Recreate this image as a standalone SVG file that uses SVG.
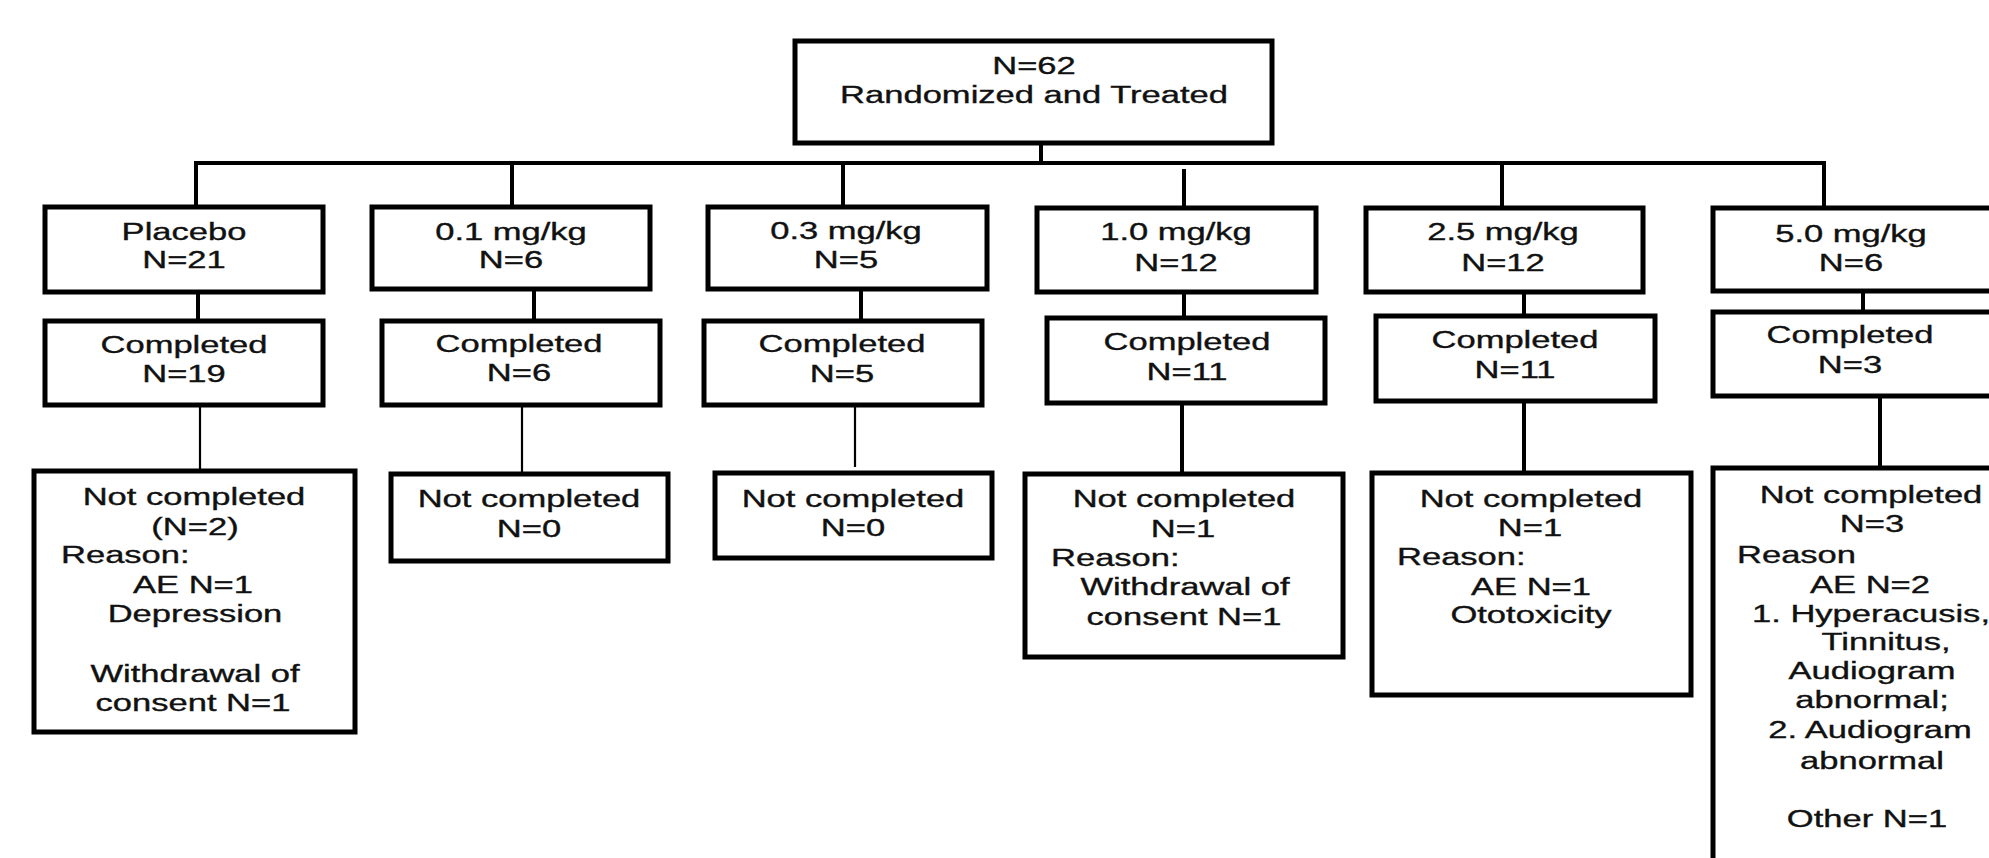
<svg xmlns="http://www.w3.org/2000/svg" width="1989" height="858" viewBox="0 0 1989 858">
<style>
rect.box{fill:#fff;stroke:#000;stroke-width:5}
.conn line{stroke:#000;stroke-width:4;stroke-linecap:butt}
.conn line.thin{stroke-width:2.2}
text{font-family:"Liberation Sans",Arial,sans-serif;font-size:23.5px;fill:#111;stroke:#111;stroke-width:0.35}
text.c{text-anchor:middle}
text.l{text-anchor:start}
</style>
<rect width="1989" height="858" fill="#fff"/>
<g id="connectors" class="conn">
<line x1="1041" y1="143" x2="1041" y2="163"/>
<line x1="194" y1="163" x2="1826" y2="163"/>
<line x1="196" y1="163" x2="196" y2="213"/>
<line x1="512" y1="163" x2="512" y2="213"/>
<line x1="843" y1="163" x2="843" y2="213"/>
<line x1="1184" y1="169" x2="1184" y2="213"/>
<line x1="1502" y1="163" x2="1502" y2="210"/>
<line x1="1824" y1="161" x2="1824" y2="210"/>
<line x1="198" y1="292" x2="198" y2="323"/>
<line x1="534" y1="285" x2="534" y2="323"/>
<line x1="861" y1="286" x2="861" y2="323"/>
<line x1="1184" y1="284" x2="1184" y2="320"/>
<line x1="1524" y1="292" x2="1524" y2="318"/>
<line x1="1863" y1="285" x2="1863" y2="314"/>
<line class="thin" x1="200" y1="405" x2="200" y2="471"/>
<line class="thin" x1="522" y1="405" x2="522" y2="474"/>
<line class="thin" x1="855" y1="405" x2="855" y2="467"/>
<line x1="1182" y1="400" x2="1182" y2="474"/>
<line x1="1524" y1="401" x2="1524" y2="473"/>
<line x1="1880" y1="396" x2="1880" y2="468"/>
</g>
<g id="root">
<rect class="box" x="795" y="41" width="477" height="102"/>
<text class="c" transform="translate(1034,74) scale(1.47,1)">N=62</text>
<text class="c" transform="translate(1034,103) scale(1.47,1)">Randomized and Treated</text>
</g>
<g id="placebo">
<rect class="box" x="45" y="207" width="278" height="85"/>
<text class="c" transform="translate(184,240) scale(1.47,1)">Placebo</text>
<text class="c" transform="translate(184,268) scale(1.47,1)">N=21</text>
</g>
<g id="dose01">
<rect class="box" x="372" y="207" width="278" height="82"/>
<text class="c" transform="translate(511,240) scale(1.47,1)">0.1 mg/kg</text>
<text class="c" transform="translate(511,268) scale(1.47,1)">N=6</text>
</g>
<g id="dose03">
<rect class="box" x="708" y="207" width="279" height="82"/>
<text class="c" transform="translate(846,239) scale(1.47,1)">0.3 mg/kg</text>
<text class="c" transform="translate(846,268) scale(1.47,1)">N=5</text>
</g>
<g id="dose10">
<rect class="box" x="1037" y="208" width="279" height="84"/>
<text class="c" transform="translate(1176,240) scale(1.47,1)">1.0 mg/kg</text>
<text class="c" transform="translate(1176,271) scale(1.47,1)">N=12</text>
</g>
<g id="dose25">
<rect class="box" x="1366" y="208" width="277" height="84"/>
<text class="c" transform="translate(1503,240) scale(1.47,1)">2.5 mg/kg</text>
<text class="c" transform="translate(1503,271) scale(1.47,1)">N=12</text>
</g>
<g id="dose50">
<rect class="box" x="1713" y="208" width="290" height="83"/>
<text class="c" transform="translate(1851,242) scale(1.47,1)">5.0 mg/kg</text>
<text class="c" transform="translate(1851,271) scale(1.47,1)">N=6</text>
</g>
<g id="completed-placebo">
<rect class="box" x="45" y="321" width="278" height="84"/>
<text class="c" transform="translate(184,353) scale(1.47,1)">Completed</text>
<text class="c" transform="translate(184,382) scale(1.47,1)">N=19</text>
</g>
<g id="completed-01">
<rect class="box" x="382" y="321" width="278" height="84"/>
<text class="c" transform="translate(519,352) scale(1.47,1)">Completed</text>
<text class="c" transform="translate(519,381) scale(1.47,1)">N=6</text>
</g>
<g id="completed-03">
<rect class="box" x="704" y="321" width="278" height="84"/>
<text class="c" transform="translate(842,352) scale(1.47,1)">Completed</text>
<text class="c" transform="translate(842,382) scale(1.47,1)">N=5</text>
</g>
<g id="completed-10">
<rect class="box" x="1047" y="318" width="278" height="85"/>
<text class="c" transform="translate(1187,350) scale(1.47,1)">Completed</text>
<text class="c" transform="translate(1187,380) scale(1.47,1)">N=11</text>
</g>
<g id="completed-25">
<rect class="box" x="1376" y="316" width="279" height="85"/>
<text class="c" transform="translate(1515,348) scale(1.47,1)">Completed</text>
<text class="c" transform="translate(1515,378) scale(1.47,1)">N=11</text>
</g>
<g id="completed-50">
<rect class="box" x="1713" y="312" width="290" height="84"/>
<text class="c" transform="translate(1850,343) scale(1.47,1)">Completed</text>
<text class="c" transform="translate(1850,373) scale(1.47,1)">N=3</text>
</g>
<g id="notcompleted-placebo">
<rect class="box" x="34" y="471" width="321" height="261"/>
<text class="c" transform="translate(194,505) scale(1.47,1)">Not completed</text>
<text class="c" transform="translate(195,535) scale(1.47,1)">(N=2)</text>
<text class="l" transform="translate(61,563) scale(1.47,1)">Reason:</text>
<text class="c" transform="translate(193,593) scale(1.47,1)">AE N=1</text>
<text class="c" transform="translate(195,622) scale(1.47,1)">Depression</text>
<text class="c" transform="translate(195,682) scale(1.47,1)">Withdrawal of</text>
<text class="c" transform="translate(193,711) scale(1.47,1)">consent N=1</text>
</g>
<g id="notcompleted-01">
<rect class="box" x="391" y="474" width="277" height="87"/>
<text class="c" transform="translate(529,507) scale(1.47,1)">Not completed</text>
<text class="c" transform="translate(529,537) scale(1.47,1)">N=0</text>
</g>
<g id="notcompleted-03">
<rect class="box" x="715" y="473" width="277" height="85"/>
<text class="c" transform="translate(853,507) scale(1.47,1)">Not completed</text>
<text class="c" transform="translate(853,536) scale(1.47,1)">N=0</text>
</g>
<g id="notcompleted-10">
<rect class="box" x="1025" y="474" width="318" height="183"/>
<text class="c" transform="translate(1184,507) scale(1.47,1)">Not completed</text>
<text class="c" transform="translate(1183,537) scale(1.47,1)">N=1</text>
<text class="l" transform="translate(1051,566) scale(1.47,1)">Reason:</text>
<text class="c" transform="translate(1185,595) scale(1.47,1)">Withdrawal of</text>
<text class="c" transform="translate(1184,625) scale(1.47,1)">consent N=1</text>
</g>
<g id="notcompleted-25">
<rect class="box" x="1372" y="473" width="319" height="222"/>
<text class="c" transform="translate(1531,507) scale(1.47,1)">Not completed</text>
<text class="c" transform="translate(1530,536) scale(1.47,1)">N=1</text>
<text class="l" transform="translate(1397,565) scale(1.47,1)">Reason:</text>
<text class="c" transform="translate(1531,595) scale(1.47,1)">AE N=1</text>
<text class="c" transform="translate(1531,623) scale(1.47,1)">Ototoxicity</text>
</g>
<g id="notcompleted-50">
<rect class="box" x="1713" y="468" width="290" height="410"/>
<text class="c" transform="translate(1871,503) scale(1.47,1)">Not completed</text>
<text class="c" transform="translate(1872,532) scale(1.47,1)">N=3</text>
<text class="l" transform="translate(1737,563) scale(1.47,1)">Reason</text>
<text class="c" transform="translate(1870,593) scale(1.47,1)">AE N=2</text>
<text class="c" transform="translate(1871,622) scale(1.47,1)">1. Hyperacusis,</text>
<text class="c" transform="translate(1886,650) scale(1.47,1)">Tinnitus,</text>
<text class="c" transform="translate(1872,679) scale(1.47,1)">Audiogram</text>
<text class="c" transform="translate(1872,708) scale(1.47,1)">abnormal;</text>
<text class="c" transform="translate(1870,738) scale(1.47,1)">2. Audiogram</text>
<text class="c" transform="translate(1872,769) scale(1.47,1)">abnormal</text>
<text class="c" transform="translate(1867,827) scale(1.47,1)">Other N=1</text>
</g>
</svg>
